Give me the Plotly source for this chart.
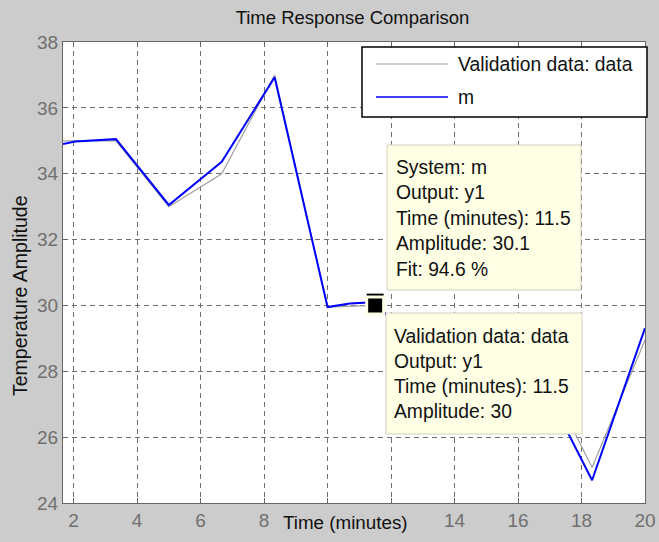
import plotly.graph_objects as go

# ---- data ----
t_data = [5/3, 10/3, 5.0, 20/3, 25/3, 10.0, 11.5, 40/3, 15.0, 50/3, 55/3, 20.0]
y_data = [35.0, 35.0, 33.0, 34.0, 37.0, 29.95, 30.0, 28.3, 28.3, 28.3, 25.08, 28.95]

t_m = [5/3, 2.05, 10/3, 5.0, 20/3, 25/3, 10.0, 10.7, 11.5, 40/3, 15.0, 50/3, 55/3, 20.0]
y_m = [34.9, 34.98, 35.05, 33.05, 34.36, 36.93, 29.95, 30.06, 30.1, 28.1, 28.0, 27.85, 24.69, 29.31]

tip_t = [11.5, 11.5]
tip_y = [30.1, 30.0]

x_tickvals = [2, 4, 6, 8, 10, 12, 14, 16, 18, 20]
x_ticktext = ["2", "4", "6", "8", "", "", "14", "16", "18", "20"]
y_tickvals = [24, 26, 28, 30, 32, 34, 36, 38]

title_text = "Time Response Comparison"
xlabel = "Time (minutes)"
ylabel = "Temperature Amplitude"
legend_names = ["Validation data: data", "m"]
tip1_lines = ["System: m", "Output: y1", "Time (minutes): 11.5", "Amplitude: 30.1", "Fit: 94.6 %"]
tip2_lines = ["Validation data: data", "Output: y1", "Time (minutes): 11.5", "Amplitude: 30"]

# ---- layout geometry (pixels) ----
W, H = 659, 542
L, R, T, B = 63, 645, 42, 503
PW, PH = R - L, B - T

def px(x):
    return (x - L) / PW

def py(y):
    return (B - y) / PH

FONT = "Liberation Sans, Arial, sans-serif"
TIPBG = "#ffffe6"

fig = go.Figure()
fig.add_trace(go.Scatter(x=t_data, y=y_data, mode="lines", name=legend_names[0],
                         line=dict(color="#a0a0a0", width=1.2), showlegend=False))
fig.add_trace(go.Scatter(x=t_m, y=y_m, mode="lines", name=legend_names[1],
                         line=dict(color="#0000ff", width=2), showlegend=False))
fig.add_trace(go.Scatter(x=[tip_t[0]], y=[tip_y[0]], mode="markers", showlegend=False,
                         marker=dict(symbol="square", size=17, color="black",
                                     line=dict(color="black", width=0))))
fig.add_trace(go.Scatter(x=[tip_t[1]], y=[tip_y[1]], mode="markers", showlegend=False,
                         marker=dict(symbol="square", size=17, color="black",
                                     line=dict(color=TIPBG, width=3))))

shapes = []
annotations = []

# legend box
shapes.append(dict(type="rect", xref="paper", yref="paper",
                   x0=px(362), x1=px(647), y0=py(117), y1=py(47),
                   fillcolor="white", line=dict(color="black", width=1.5), layer="above"))
shapes.append(dict(type="line", xref="paper", yref="paper",
                   x0=px(376), x1=px(448), y0=py(64), y1=py(64),
                   line=dict(color="#a0a0a0", width=1.2), layer="above"))
shapes.append(dict(type="line", xref="paper", yref="paper",
                   x0=px(376), x1=px(448), y0=py(97), y1=py(97),
                   line=dict(color="#0000ff", width=1.5), layer="above"))
for name, yy in zip(legend_names, [64, 97]):
    annotations.append(dict(text=name, xref="paper", yref="paper", x=px(456), y=py(yy),
                            xanchor="left", yanchor="middle", showarrow=False,
                            font=dict(family=FONT, size=19.3, color="#111111")))

# data tip 1
shapes.append(dict(type="rect", xref="paper", yref="paper",
                   x0=px(387), x1=px(581), y0=py(290), y1=py(145),
                   fillcolor=TIPBG, line=dict(color="#d0d0c0", width=1), layer="above"))
for i, line in enumerate(tip1_lines):
    annotations.append(dict(text=line, xref="paper", yref="paper", x=px(394), y=py(167 + 25.5 * i),
                            xanchor="left", yanchor="middle", showarrow=False,
                            font=dict(family=FONT, size=19.3, color="#111111")))
# data tip 2
shapes.append(dict(type="rect", xref="paper", yref="paper",
                   x0=px(386), x1=px(582), y0=py(434), y1=py(313),
                   fillcolor=TIPBG, line=dict(color="#d0d0c0", width=1), layer="above"))
for i, line in enumerate(tip2_lines):
    annotations.append(dict(text=line, xref="paper", yref="paper", x=px(392), y=py(336 + 25.3 * i),
                            xanchor="left", yanchor="middle", showarrow=False,
                            font=dict(family=FONT, size=19.3, color="#111111")))

# axis labels
annotations.append(dict(text=xlabel, xref="paper", yref="paper", x=px(345), y=py(522),
                        xanchor="center", yanchor="middle", showarrow=False,
                        font=dict(family=FONT, size=18.8, color="#111111")))
annotations.append(dict(text=ylabel, xref="paper", yref="paper", x=px(20), y=py(296),
                        xanchor="center", yanchor="middle", showarrow=False, textangle=-90,
                        font=dict(family=FONT, size=19.5, color="#111111")))

axis_common = dict(showline=True, linecolor="#666666", linewidth=1.3, mirror="ticks",
                   ticks="inside", ticklen=5, tickcolor="#666666", automargin=False,
                   showgrid=True, gridcolor="#6e6e6e", gridwidth=1, griddash="5px,4px",
                   zeroline=False, tickfont=dict(family=FONT, size=19, color="#707070"))

fig.update_layout(
    width=W, height=H, autosize=False,
    margin=dict(l=L, r=W - R, t=T, b=H - B, pad=0, autoexpand=False),
    paper_bgcolor="#cccccc", plot_bgcolor="white",
    title=dict(text=title_text, x=px(352.5), xref="paper", xanchor="center",
               y=1 - 18 / H, yanchor="middle", automargin=False,
               font=dict(family=FONT, size=18.5, color="#111111")),
    xaxis=dict(range=[5/3, 20], tickvals=x_tickvals, ticktext=x_ticktext, **axis_common),
    yaxis=dict(range=[24, 38], tickvals=y_tickvals, **axis_common),
    shapes=shapes, annotations=annotations, showlegend=False,
)

fig.write_html("out.html", config={"displayModeBar": False},
               post_script="document.body.style.margin='0';document.body.style.background='#cccccc';")
